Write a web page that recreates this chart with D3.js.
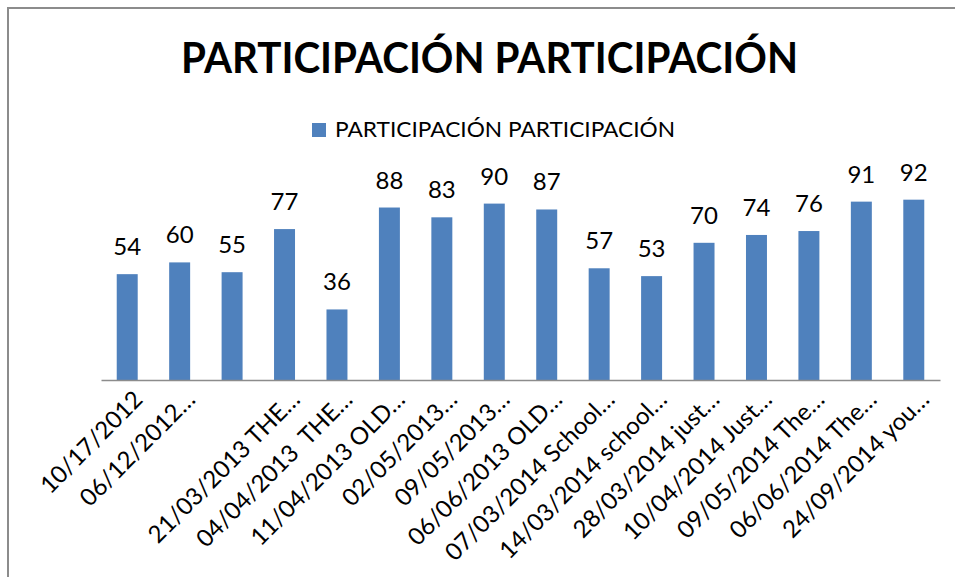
<!DOCTYPE html>
<html>
<head>
<meta charset="utf-8">
<script src="https://cdn.jsdelivr.net/npm/d3@7"></script>
<style>
  html, body { margin: 0; padding: 0; background: #fff; }
  svg { display: block; }
  text { font-family: Lato, "Open Sans", sans-serif; fill: #000; }
</style>
</head>
<body>
<svg id="chart" width="955" height="577"></svg>
<script>
const title = "PARTICIPACIÓN PARTICIPACIÓN";
const seriesName = "PARTICIPACIÓN PARTICIPACIÓN";
const categories = [
  "10/17/2012",
  "06/12/2012…",
  "",
  "21/03/2013 THE…",
  "04/04/2013  THE…",
  "11/04/2013 OLD…",
  "02/05/2013…",
  "09/05/2013…",
  "06/06/2013 OLD…",
  "07/03/2014 School…",
  "14/03/2014 school…",
  "28/03/2014 just…",
  "10/04/2014 Just…",
  "09/05/2014 The…",
  "06/06/2014 The…",
  "24/09/2014 you…"
];
const values = [54, 60, 55, 77, 36, 88, 83, 90, 87, 57, 53, 70, 74, 76, 91, 92];
const yDomain = [0, 100];

const svg = d3.select("#chart");
const barColor = "#4F81BD";

// chart frame
svg.append("rect")
  .attr("x", 8).attr("y", 8).attr("width", 1200).attr("height", 1200)
  .attr("fill", "none").attr("stroke", "#8c8c8c").attr("stroke-width", 2);

// title
svg.append("text")
  .attr("x", 489.5).attr("y", 73)
  .attr("text-anchor", "middle")
  .attr("font-size", 42).attr("font-weight", "bold")
  .attr("textLength", 617).attr("lengthAdjust", "spacingAndGlyphs")
  .style("xml:space", "preserve")
  .text(title);

// legend
const lg = svg.append("g");
lg.append("rect").attr("x", 312).attr("y", 123).attr("width", 14).attr("height", 14).attr("fill", barColor);
lg.append("text").attr("x", 335).attr("y", 137)
  .attr("font-size", 21)
  .attr("textLength", 340).attr("lengthAdjust", "spacingAndGlyphs")
  .text(seriesName);

const x = d3.scaleBand()
  .domain(d3.range(categories.length))
  .range([101, 940])
  .paddingInner(0.6)
  .paddingOuter(0.3);

const y = d3.scaleLinear().domain(yDomain).range([380, 184]);

// bars
svg.append("g").selectAll("rect")
  .data(values)
  .join("rect")
  .attr("x", (d, i) => x(i))
  .attr("y", d => y(d))
  .attr("width", x.bandwidth())
  .attr("height", d => y(0) - y(d))
  .attr("fill", barColor);

// value labels
svg.append("g").selectAll("text")
  .data(values)
  .join("text")
  .attr("x", (d, i) => x(i) + x.bandwidth() / 2)
  .attr("y", d => y(d) - 19)
  .attr("text-anchor", "middle")
  .attr("font-size", 24)
  .text(d => d);

// x axis
const xAxis = d3.axisBottom(x).tickSize(0).tickFormat(i => categories[i]);
const gx = svg.append("g").attr("transform", `translate(0,${y(0)})`).call(xAxis);
gx.select(".domain").attr("stroke", "#8c8c8c").attr("stroke-width", 1.6);
gx.selectAll(".tick text")
  .attr("x", null).attr("y", null).attr("dy", null)
  .attr("font-size", 24)
  .attr("fill", "#000")
  .style("font-family", "Lato, 'Open Sans', sans-serif")
  .style("white-space", "pre")
  .attr("text-anchor", "end")
  .attr("transform", "translate(17,21) rotate(-45)");
</script>
</body>
</html>
